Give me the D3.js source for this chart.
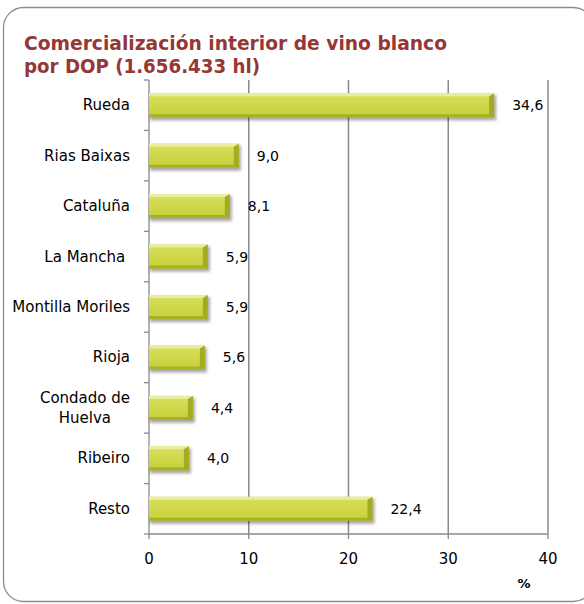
<!DOCTYPE html>
<html><head><meta charset="utf-8">
<script src="https://cdn.jsdelivr.net/npm/d3@7"></script>
<style>body{margin:0;background:#fff} text{white-space:pre}</style>
</head><body>
<script>
const categories = ["Rueda","Rias Baixas","Cataluña","La Mancha ","Montilla Moriles","Rioja","Condado de\nHuelva","Ribeiro","Resto"];
const values = [34.6,9.0,8.1,5.9,5.9,5.6,4.4,4.0,22.4];
const valueLabels = ["34,6","9,0","8,1","5,9","5,9","5,6","4,4","4,0","22,4"];
const xTicks = [0,10,20,30,40];
const titleLines = ["Comercialización interior de vino blanco","por DOP (1.656.433 hl)"];
const axisUnit = "%";

const W=584,H=604;
const svg=d3.select("body").append("svg").attr("width",W).attr("height",H);
const defs=svg.append("defs");
const g1=defs.append("linearGradient").attr("id","face").attr("x1",0).attr("y1",0).attr("x2",0).attr("y2",1);
g1.append("stop").attr("offset","0%").attr("stop-color","#d9e05e");
g1.append("stop").attr("offset","100%").attr("stop-color","#c6cf38");
const f=defs.append("filter").attr("id","sh").attr("x","-10%").attr("y","-50%").attr("width","130%").attr("height","220%");
f.append("feGaussianBlur").attr("stdDeviation",1.5);

svg.append("rect").attr("x",3.5).attr("y",7.5).attr("width",590).attr("height",594).attr("rx",20)
  .attr("fill","#fff").attr("stroke","#8c8c8c").attr("stroke-width",1.3);

svg.selectAll("text.title").data(titleLines).enter().append("text")
  .attr("x",24).attr("y",(d,i)=>50+i*23)
  .attr("font-family","'DejaVu Sans'").attr("font-weight","bold").attr("font-size",20)
  .attr("fill","#953735").attr("textLength",(d,i)=>i==0?423:236).attr("lengthAdjust","spacingAndGlyphs")
  .text(d=>d);

const x=d3.scaleLinear().domain([0,40]).range([149,548]);
const y=d3.scaleBand().domain(categories).range([80,534]).paddingInner(0.524).paddingOuter(0.262);
const step=y.step();

// gridlines
svg.append("g").selectAll("line").data(xTicks.slice(1)).enter().append("line")
  .attr("x1",d=>x(d)).attr("x2",d=>x(d)).attr("y1",80).attr("y2",534)
  .attr("stroke","#8a8a8a").attr("stroke-width",1.5);

// axes
const ax=svg.append("g").attr("stroke","#8a8a8a").attr("stroke-width",1.3);
ax.append("line").attr("x1",149).attr("x2",149).attr("y1",80).attr("y2",534);
d3.range(categories.length+1).forEach(i=>{
  const yy=80+i*step;
  ax.append("line").attr("x1",144).attr("x2",149).attr("y1",yy).attr("y2",yy);
});
ax.append("line").attr("x1",149).attr("x2",548).attr("y1",534).attr("y2",534);
xTicks.forEach(t=>ax.append("line").attr("x1",x(t)).attr("x2",x(t)).attr("y1",534).attr("y2",539));

svg.append("g").selectAll("text").data(xTicks).enter().append("text")
  .attr("x",d=>x(d)).attr("y",564).attr("text-anchor","middle")
  .attr("font-family","'DejaVu Sans'").attr("font-size",15).attr("fill","#000").text(d=>d);
svg.append("text").attr("x",524).attr("y",588).attr("text-anchor","middle")
  .attr("font-family","'DejaVu Sans'").attr("font-weight","bold").attr("font-size",13).text(axisUnit);

// bars
const bars=svg.append("g").selectAll("g").data(categories).enter().append("g");
bars.each(function(c,i){
  const gg=d3.select(this);
  const x0=x(0),x1=x(values[i]),y0=y(c),h=y.bandwidth(),y1=y0+h,b=3;
  gg.append("rect").attr("x",x0+1).attr("y",y0+2).attr("width",x1-x0+1).attr("height",h+1)
    .attr("fill","rgba(0,0,0,0.35)").attr("filter","url(#sh)");
  gg.append("rect").attr("x",x0).attr("y",y0).attr("width",x1-x0).attr("height",h).attr("fill","url(#face)");
  gg.append("polygon").attr("points",[[x0,y0],[x1,y0],[x1-b,y0+b],[x0,y0+b]].join(" ")).attr("fill","#e9ee9f");
  gg.append("polygon").attr("points",[[x0,y1],[x1,y1],[x1-b,y1-b],[x0,y1-b]].join(" ")).attr("fill","#a8b024");
  gg.append("polygon").attr("points",[[x1,y0],[x1,y1],[x1-b-2,y1-b],[x1-b-2,y0+b]].join(" ")).attr("fill","#a3ab22");
  gg.append("text").attr("x",x1+18).attr("y",y0+h/2+5)
    .attr("font-family","'DejaVu Sans'").attr("font-size",14).attr("fill","#000").text(valueLabels[i]);
});

// category labels
svg.append("g").selectAll("text").data(categories).enter().append("text")
  .attr("font-family","'DejaVu Sans'").attr("font-size",15).attr("fill","#000")
  .each(function(c){
    const t=d3.select(this);
    const lines=c.split("\n");
    const cy=y(c)+y.bandwidth()/2;
    if(lines.length==1){
      t.attr("x",130).attr("y",cy+5).attr("text-anchor","end").text(c);
    } else {
      t.attr("text-anchor","middle");
      const ts=lines.map((l,k)=>t.append("tspan").attr("y",cy+5+(k-(lines.length-1)/2)*20).text(l));
      let mw=0; ts.forEach(s=>mw=Math.max(mw,s.node().getComputedTextLength()));
      ts.forEach(s=>s.attr("x",130-mw/2));
    }
  });
</script>
</body></html>
